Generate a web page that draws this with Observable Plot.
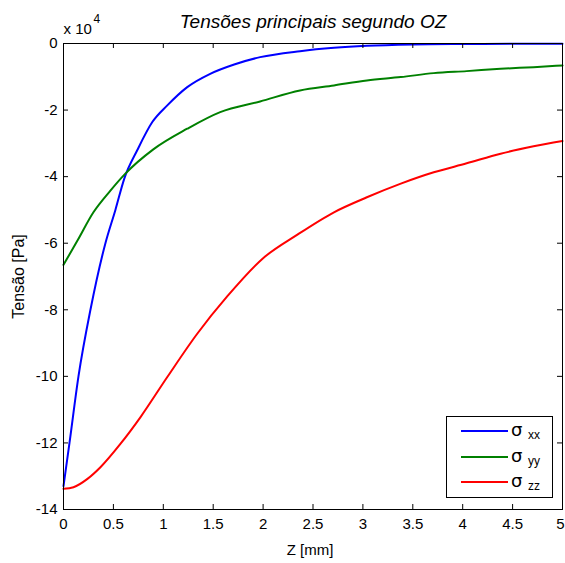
<!DOCTYPE html>
<html><head><meta charset="utf-8">
<script src="https://cdn.jsdelivr.net/npm/d3@7"></script>
<script src="https://cdn.jsdelivr.net/npm/@observablehq/plot@0.6"></script>
<style>
body{margin:0;background:#fff;}
#wrap{position:relative;width:565px;height:563px;overflow:hidden;}
#legend{position:absolute;left:446px;top:416px;width:107px;height:82px;border:1px solid #000;background:#fff;box-sizing:border-box;}
.row{position:absolute;left:0;height:20px;}
.sw{position:absolute;left:14px;width:47px;height:2px;}
.sig{position:absolute;left:64px;font-family:"DejaVu Sans",sans-serif;font-size:18px;line-height:18px;}
.sub{position:absolute;left:81px;font-family:"Liberation Sans",Arial,sans-serif;font-size:12px;line-height:12px;}
</style></head><body><div id="wrap"></div>
<script>
// Data (values in units of 10^4 Pa)
const zXX = [0, 0.06, 0.15, 0.27, 0.42, 0.52, 0.61, 0.74, 0.89, 1.04, 1.24, 1.47, 1.71, 1.97, 2.37, 2.71, 3.04, 3.5, 4.0, 4.5, 5.0];
const sXX = [-13.3, -12.0, -10.0, -8.0, -6.0, -5.0, -4.05, -3.2, -2.36, -1.86, -1.31, -0.91, -0.63, -0.41, -0.23, -0.13, -0.07, -0.03, -0.015, -0.008, -0.004];
const zYY = [0, 0.14, 0.3, 0.47, 0.62, 0.9, 1.24, 1.57, 1.97, 2.37, 2.71, 3.04, 3.38, 3.71, 4.04, 4.38, 4.71, 5.0];
const sYY = [-6.65, -5.92, -5.07, -4.42, -3.91, -3.18, -2.56, -2.06, -1.74, -1.41, -1.26, -1.11, -1.01, -0.89, -0.83, -0.76, -0.71, -0.66];
const zZZ = [0, 0.1, 0.24, 0.37, 0.57, 0.77, 1.04, 1.34, 1.64, 2.0, 2.34, 2.71, 3.04, 3.38, 3.71, 4.04, 4.38, 4.71, 5.0];
const sZZ = [-13.38, -13.33, -13.08, -12.73, -12.03, -11.23, -10.02, -8.72, -7.6, -6.45, -5.75, -5.07, -4.62, -4.21, -3.87, -3.6, -3.31, -3.09, -2.93];

const seriesNames = ["xx", "yy", "zz"];
const seriesColors = ["#0000ff", "#008000", "#ff0000"];
const xTicks = [0, 0.5, 1, 1.5, 2, 2.5, 3, 3.5, 4, 4.5, 5];
const xTickLabels = ["0", "0.5", "1", "1.5", "2", "2.5", "3", "3.5", "4", "4.5", "5"];
const yTicks = [-14, -12, -10, -8, -6, -4, -2, 0];
const yTickLabels = ["-14", "-12", "-10", "-8", "-6", "-4", "-2", "0"];
const titleText = "Tensões principais segundo OZ";
const xLabelText = "Z [mm]";
const yLabelText = "Tensão [Pa]";
const expBase = "x 10";
const expPow = "4";

const W = 565, H = 563, mL = 63, mR = 3, mT = 43, mB = 54;
const innerW = W - mL - mR, innerH = H - mT - mB;
const tickLen = 5;
const font = "'Liberation Sans',Arial,sans-serif";

const toRows = (zs, ss) => zs.map((z, i) => ({z, s: ss[i]}));
const seriesData = [toRows(zXX, sXX), toRows(zYY, sYY), toRows(zZZ, sZZ)];
const xMain = xTicks.slice(0, -1), xLast = xTicks.slice(-1);
const fmtX = d => xTickLabels[xTicks.indexOf(d)];

const chart = Plot.plot({
  width: W, height: H,
  marginLeft: mL, marginRight: mR, marginTop: mT, marginBottom: mB,
  x: {domain: [0, 5]},
  y: {domain: [-14, 0]},
  style: {fontFamily: font, fontSize: "15px", color: "#000", background: "#fff"},
  marks: [
    ...seriesData.map((d, i) => Plot.line(d, {x: "z", y: "s", stroke: seriesColors[i], strokeWidth: 2, curve: "monotone-x"})),
    Plot.frame({stroke: "#000"}),
    Plot.ruleX(xTicks, {x: d => d, insetTop: innerH - tickLen, stroke: "#000"}),
    Plot.ruleX(xTicks, {x: d => d, insetBottom: innerH - tickLen, stroke: "#000"}),
    Plot.ruleY(yTicks, {y: d => d, insetRight: innerW - tickLen, stroke: "#000"}),
    Plot.ruleY(yTicks, {y: d => d, insetLeft: innerW - tickLen, stroke: "#000"}),
    Plot.axisX({ticks: xMain, tickSize: 0, tickPadding: 9, tickFormat: fmtX, label: null, fontSize: 15}),
    Plot.axisX({ticks: xLast, tickSize: 0, tickPadding: 9, tickFormat: fmtX, label: null, fontSize: 15, dx: -2}),
    Plot.axisY({ticks: yTicks, tickSize: 0, tickPadding: 6, tickFormat: d => yTickLabels[yTicks.indexOf(d)], label: null, fontSize: 15}),
    Plot.text([titleText], {frameAnchor: "top", dy: -22, lineAnchor: "middle", fontStyle: "italic", fontSize: 19}),
    Plot.text([expBase], {frameAnchor: "top-left", textAnchor: "start", lineAnchor: "middle", dy: -14, dx: 0, fontSize: 15}),
    Plot.text([expPow], {frameAnchor: "top-left", textAnchor: "start", lineAnchor: "middle", dy: -24, dx: 30, fontSize: 12}),
    Plot.text([yLabelText], {frameAnchor: "left", dx: -45, rotate: -90, textAnchor: "middle", lineAnchor: "middle", fontSize: 16}),
    Plot.text([xLabelText], {frameAnchor: "bottom", dy: 41, dx: -3, textAnchor: "middle", lineAnchor: "middle", fontSize: 15})
  ]
});
const wrap = document.getElementById("wrap");
wrap.appendChild(chart);

const legend = document.createElement("div");
legend.id = "legend";
seriesNames.forEach((name, i) => {
  const row = document.createElement("div");
  row.className = "row";
  row.style.top = (5 + i * 25.5) + "px";
  row.innerHTML = `<div class="sw" style="top:8px;background:${seriesColors[i]}"></div><span class="sig" style="top:-1px">σ</span><span class="sub" style="top:7px">${name}</span>`;
  legend.appendChild(row);
});
wrap.appendChild(legend);
</script>
</body></html>
